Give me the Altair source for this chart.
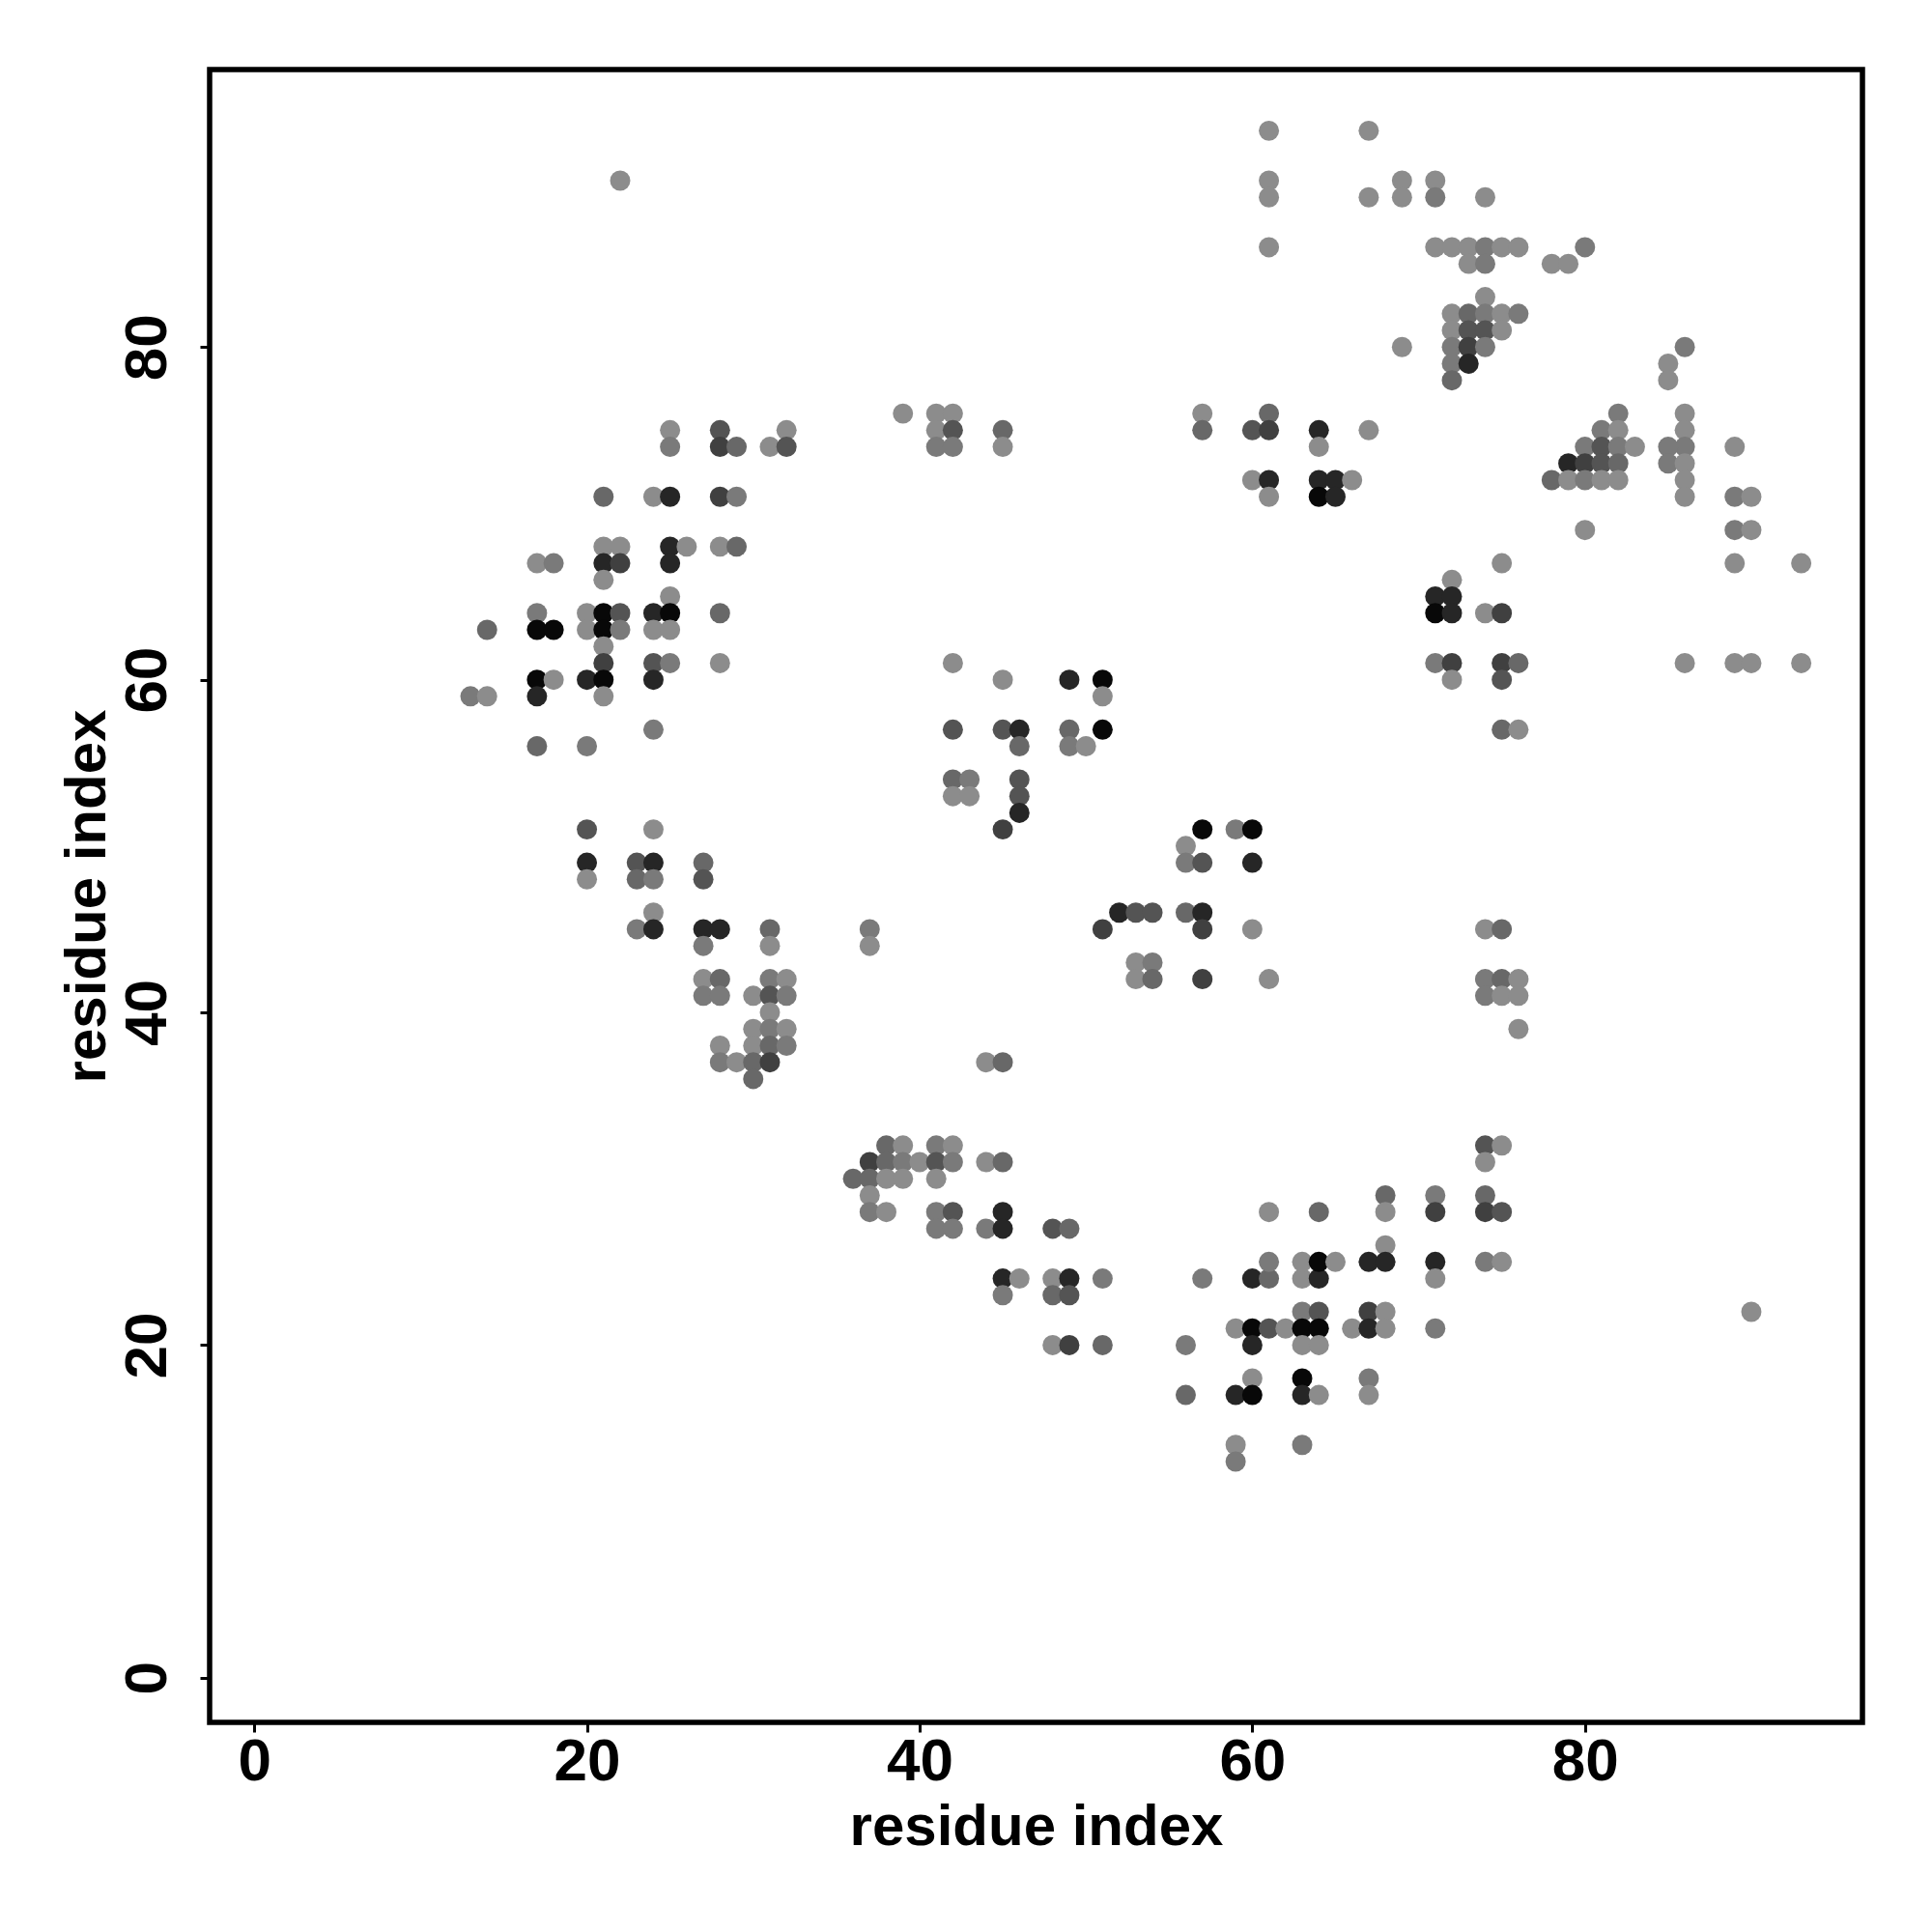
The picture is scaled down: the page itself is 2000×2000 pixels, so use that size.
import altair as alt
import pandas as pd

# contact list: residue i, residue j, contact score level (1 = weak/light ... 7 = strong/black)
res_i = [
    22, 39, 25, 25, 28, 28, 29, 31, 32, 32,
    21, 24, 25, 28, 29,
    21, 22, 25, 26, 28, 29,
    17, 18, 21, 22, 25, 21,
    25, 17, 20, 21, 22, 24, 25, 28,
    14, 17, 18, 20, 21, 22, 24, 25,
    21, 21, 24, 25, 28,
    17, 18, 20, 21, 24,
    13, 14, 17, 21,
    24, 17, 20, 20, 24,
    20, 23, 24, 27, 20, 23, 24, 27,
    24, 23, 24, 27, 28, 31, 37,
    27, 31, 37,
    27, 28, 31, 32,
    27, 28, 30, 31, 32, 31,
    30, 31, 32, 28, 30, 31, 32,
    28, 29, 30, 31, 30,
    38, 39, 37, 38, 39, 40,
    36, 37, 38, 39, 37, 37, 38,
    41, 42, 41, 42, 44, 45, 41,
    41, 42, 45, 41, 42, 44, 45, 48, 49,
    44, 45,
    45, 46, 48, 49, 51, 57, 60, 61, 63, 64,
    45, 48, 49,
    61, 64, 61, 63, 64, 65,
    63, 64,
    59, 60, 61, 62, 63, 64, 66,
    48, 49, 51, 56, 60, 63, 64,
    60, 63,
    56, 59, 60, 63, 64,
    59, 63, 59,
    76, 74, 75, 74,
    68, 71, 74, 68, 71, 74, 75, 68,
    67, 68, 71, 74, 75, 71,
    67, 68, 67, 68, 71, 90, 67, 67,
    42, 45, 49, 51, 51,
    42, 45, 46, 49, 51, 46, 49, 50,
    42, 43, 46, 42, 43, 46, 46, 45,
    57, 59, 60, 56, 56, 57, 60,
    52, 53, 54, 56, 57, 51, 57, 60,
    53, 54, 53, 54, 57, 61,
    61, 67, 61, 61, 67, 61,
    41, 42, 41, 42, 41, 42, 45, 45,
    57, 57, 60, 61, 61, 64, 64,
    60, 61, 61, 64, 65, 66, 64, 65, 67,
    69, 69, 71, 71, 74,
    71, 72, 73, 74, 75, 76, 73, 74, 78, 79, 80, 74,
    72, 73, 74, 75, 76, 72, 73, 74, 75,
    69, 72, 73, 74, 72, 73, 72,
    86, 85, 85, 82, 81, 82,
    80, 81, 82, 83, 79, 80, 81, 82,
    78, 79, 80, 81, 82,
    86, 86, 86, 85, 85, 86, 86, 86,
    89, 89, 90, 80, 89, 90, 75, 89, 93, 72,
    71, 72, 71, 72, 74, 75,
    71, 72, 75, 76, 86, 89, 90, 93,
    72, 75, 75, 76, 74, 75,
    74, 75, 76, 74, 75, 76,
]

res_j = [
    90, 76, 75, 74, 75, 74, 74, 74, 75, 74,
    71, 71, 71, 71, 71,
    68, 68, 68, 68, 68, 68,
    67, 67, 67, 67, 67, 66,
    65, 64, 64, 64, 64, 64, 64, 64,
    63, 63, 63, 63, 63, 63, 63, 63,
    62, 61, 61, 61, 61,
    60, 60, 60, 60, 60,
    59, 59, 59, 59,
    57, 56, 56, 51, 51,
    49, 49, 49, 49, 48, 48, 48, 48,
    46, 45, 45, 45, 45, 45, 45,
    44, 44, 44,
    42, 42, 42, 42,
    41, 41, 41, 41, 41, 40,
    39, 39, 39, 38, 38, 38, 38,
    37, 37, 37, 37, 36,
    32, 32, 31, 31, 31, 31,
    30, 30, 30, 30, 29, 28, 28,
    32, 32, 31, 31, 31, 31, 30,
    28, 28, 28, 27, 27, 27, 27, 27, 27,
    37, 37,
    24, 24, 24, 24, 24, 24, 24, 24, 24, 24,
    23, 23, 23,
    28, 28, 25, 25, 25, 25,
    22, 22,
    21, 21, 21, 21, 21, 21, 21,
    20, 20, 20, 20, 20, 20, 20,
    18, 18,
    17, 17, 17, 17, 17,
    14, 14, 13,
    39, 32, 32, 31,
    29, 29, 29, 28, 28, 28, 28, 26,
    25, 25, 25, 25, 25, 24,
    22, 22, 21, 21, 21, 22, 18, 17,
    61, 60, 60, 60, 59,
    57, 57, 57, 57, 57, 56, 56, 56,
    54, 54, 54, 53, 53, 53, 52, 51,
    51, 51, 51, 50, 49, 49, 49,
    46, 46, 46, 46, 46, 45, 45, 45,
    43, 43, 42, 42, 42, 42,
    93, 93, 90, 89, 89, 86,
    76, 76, 75, 75, 74, 74, 75, 74,
    76, 75, 75, 76, 75, 75, 74,
    72, 72, 71, 72, 72, 72, 71, 71, 75,
    90, 89, 90, 89, 89,
    86, 86, 86, 86, 86, 86, 85, 85, 85, 85, 86, 83,
    82, 82, 82, 82, 82, 81, 81, 81, 81,
    80, 80, 80, 80, 79, 79, 78,
    80, 79, 78, 76, 75, 75,
    74, 74, 74, 74, 73, 73, 73, 73,
    72, 72, 72, 72, 72,
    76, 75, 74, 74, 73, 73, 72, 71,
    74, 71, 71, 69, 69, 69, 67, 67, 67, 66,
    65, 65, 64, 64, 64, 64,
    61, 61, 61, 61, 61, 61, 61, 61,
    60, 60, 57, 57, 45, 45,
    42, 42, 42, 41, 41, 41,
]

score = [
    1, 1, 1, 2, 4, 5, 3, 1, 1, 4,
    3, 1, 6, 5, 2,
    1, 1, 6, 1, 1, 3,
    1, 2, 6, 5, 6, 1,
    1, 2, 1, 7, 4, 6, 7, 3,
    3, 7, 7, 1, 7, 2, 1, 1,
    1, 5, 4, 2, 1,
    7, 1, 6, 7, 6,
    2, 1, 6, 1,
    2, 3, 2, 4, 1,
    6, 4, 6, 3, 1, 3, 2, 4,
    1, 2, 6, 6, 6, 3, 2,
    2, 1, 1,
    1, 3, 2, 1,
    2, 2, 1, 4, 2, 1,
    1, 2, 1, 1, 1, 3, 2,
    2, 1, 3, 5, 3,
    3, 1, 5, 3, 2, 1,
    3, 3, 1, 1, 1, 2, 1,
    2, 1, 4, 2, 1, 3, 1,
    2, 4, 6, 2, 2, 2, 6, 4, 3,
    1, 3,
    6, 1, 1, 6, 2, 2, 6, 3, 1, 6,
    2, 3, 4,
    1, 3, 2, 1, 7, 1,
    2, 4,
    1, 7, 4, 1, 7, 7, 1,
    1, 5, 3, 2, 6, 1, 1,
    1, 7,
    3, 6, 7, 6, 1,
    1, 2, 2,
    1, 4, 1, 1,
    3, 2, 3, 1, 5, 5, 4, 1,
    6, 6, 6, 2, 1, 1,
    5, 1, 6, 1, 2, 1, 2, 1,
    1, 1, 6, 7, 1,
    4, 4, 6, 3, 7, 3, 2, 1,
    3, 2, 4, 1, 1, 4, 6, 5,
    7, 2, 7, 1, 2, 4, 6,
    6, 4, 4, 3, 6, 5, 5, 1,
    1, 2, 1, 3, 5, 1,
    1, 1, 1, 1, 1, 1,
    1, 1, 1, 4, 2, 2, 3, 1,
    1, 3, 4, 3, 5, 6, 1,
    1, 6, 1, 6, 6, 1, 7, 6, 1,
    1, 1, 1, 2, 1,
    1, 1, 1, 2, 1, 1, 1, 2, 1, 1, 2, 1,
    1, 3, 2, 1, 2, 1, 4, 4, 1,
    1, 2, 5, 2, 2, 6, 3,
    2, 1, 1, 2, 2, 1,
    2, 4, 2, 1, 6, 5, 4, 3,
    3, 1, 2, 1, 1,
    1, 1, 2, 2, 2, 1, 1, 1,
    1, 2, 1, 1, 2, 1, 1, 1, 1, 1,
    6, 6, 7, 6, 1, 5,
    2, 5, 5, 3, 1, 1, 1, 1,
    1, 4, 3, 1, 1, 3,
    2, 3, 1, 2, 1, 1,
]

ticks = [0, 20, 40, 60, 80]
levels = [1, 2, 3, 4, 5, 6, 7]
grays = ["#8c8c8c", "#7a7a7a", "#686868", "#545454", "#404040", "#262626", "#080808"]

assert len(res_i) == len(res_j) == len(score)
df = pd.DataFrame({"i": res_i, "j": res_j, "s": score})

W = 1711
H = 1711
dom = [-2.68, 96.68]
FONT = "Liberation Sans"

x_axis = alt.Axis(
    values=ticks, title="residue index", grid=False, domain=False,
    tickSize=10, tickWidth=3, tickColor="black",
    labelFont=FONT, labelFontSize=62, labelFontWeight="bold", labelColor="black",
    labelPadding=0, labelBaseline="top", labelFlush=False, labelOverlap=False,
    titleFont=FONT, titleFontSize=60, titleFontWeight="bold", titleColor="black",
    titleX=W / 2, titleY=126, titleBaseline="alphabetic", titleAlign="center",
)
y_axis = alt.Axis(
    values=ticks, title="residue index", grid=False, domain=False,
    tickSize=10, tickWidth=3, tickColor="black",
    labelFont=FONT, labelFontSize=62, labelFontWeight="bold", labelColor="black",
    labelAngle=270, labelAlign="center", labelBaseline="alphabetic",
    labelPadding=36, labelFlush=False, labelOverlap=False,
    titleFont=FONT, titleFontSize=60, titleFontWeight="bold", titleColor="black",
    titleAngle=270, titleX=-109, titleY=H / 2, titleBaseline="alphabetic", titleAlign="center",
)

chart = alt.Chart(df).mark_circle(size=440, opacity=1).encode(
    x=alt.X("i:Q", scale=alt.Scale(domain=dom, nice=False, zero=False), axis=x_axis),
    y=alt.Y("j:Q", scale=alt.Scale(domain=dom, nice=False, zero=False), axis=y_axis),
    color=alt.Color("s:O", scale=alt.Scale(domain=levels, range=grays), legend=None),
).properties(
    width=W, height=H,
    autosize=alt.AutoSizeParams(type="none"),
    padding={"left": 209, "top": 64, "right": 60, "bottom": 200},
    background="white",
).configure_view(stroke="black", strokeWidth=5.5)

chart.save("out.html", embed_options={"renderer": "svg", "actions": False})
